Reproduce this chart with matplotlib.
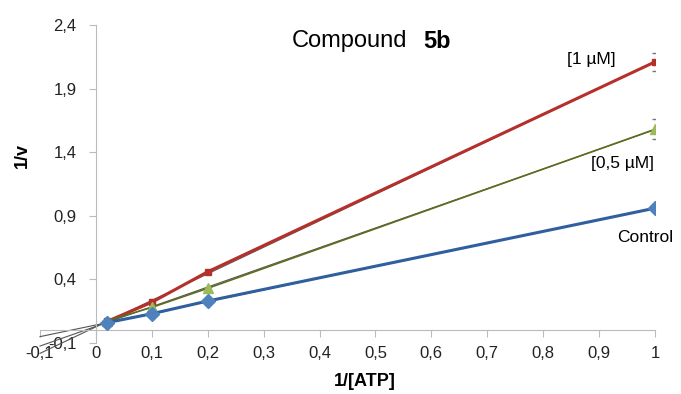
import numpy as np
import matplotlib
matplotlib.use("Agg")
import matplotlib.pyplot as plt

plt.rcParams['font.family'] = ['Liberation Sans', 'DejaVu Sans']

# data
atp_inv = [0.02, 0.1, 0.2, 1.0]
control = [0.06, 0.13, 0.23, 0.96]
half_um = [0.075, 0.18, 0.33, 1.58]
one_um = [0.07, 0.22, 0.46, 2.11]
err_half = [0, 0, 0, 0.08]
err_one = [0, 0, 0, 0.07]

x_ticks = [-0.1, 0, 0.1, 0.2, 0.3, 0.4, 0.5, 0.6, 0.7, 0.8, 0.9, 1]
y_ticks = [-0.1, 0.4, 0.9, 1.4, 1.9, 2.4]

def fmt(v):
    if abs(v - round(v)) < 1e-9:
        return str(int(round(v)))
    return ('%.1f' % v).replace('.', ',')

fig = plt.figure(figsize=(6.81, 3.94), dpi=100)
ax = fig.add_axes([40/681, 1-343/394, 615/681, 318/394])

# extrapolated trendlines
xs = np.array([-0.1, 1.0])
for ys in (control, half_um, one_um):
    k, b = np.polyfit(atp_inv, ys, 1)
    ax.plot(xs, k*xs + b, color='#555555', lw=0.8, zorder=2, clip_on=False)

ax.errorbar(atp_inv, one_um, yerr=err_one, color='#b5302b', lw=2.2,
            marker='s', ms=5, ecolor='#777777', elinewidth=0.8, capsize=2.5,
            zorder=4)
ax.errorbar(atp_inv, half_um, yerr=err_half, color='#5a6e1e', lw=1.2,
            marker='^', ms=7, mfc='#9bbb59', mec='#9bbb59',
            ecolor='#777777', elinewidth=0.8, capsize=2.5, zorder=5)
ax.plot(atp_inv, control, color='#2f5f9e', lw=2.2, marker='D', ms=7,
        mfc='#4f81bd', mec='#4f81bd', zorder=6)

ax.set_xlim(-0.1, 1.0)
ax.set_ylim(-0.1, 2.4)
ax.set_xticks(x_ticks)
ax.set_xticklabels([fmt(v) for v in x_ticks])
ax.set_yticks(y_ticks)
ax.set_yticklabels([fmt(v) for v in y_ticks])

for s in ('top', 'right'):
    ax.spines[s].set_visible(False)
ax.spines['left'].set_position(('data', 0))
ax.spines['bottom'].set_position(('data', 0))
for s in ('left', 'bottom'):
    ax.spines[s].set_color('#bbbbbb')
ax.tick_params(axis='both', colors='#bbbbbb', labelcolor='#222222',
               labelsize=12, length=5, direction='out')
ax.tick_params(axis='x', pad=6)
ax.tick_params(axis='y', pad=9)

ax.text(0.557, 2.36, 'Compound', fontsize=17, ha='right', va='top')
ax.text(0.585, 2.36, '5b', fontsize=17, fontweight='bold', ha='left', va='top')
ax.text(0.886, 2.125, '[1 µM]', fontsize=12.5, ha='center', va='center')
ax.text(0.941, 1.315, '[0,5 µM]', fontsize=12.5, ha='center', va='center')
ax.text(0.982, 0.733, 'Control', fontsize=12.5, ha='center', va='center')

fig.text(22/681, 1-155/394, '1/v', fontsize=13, fontweight='bold',
         rotation=90, ha='center', va='center')
fig.text(365/681, 1-381/394, '1/[ATP]', fontsize=13, fontweight='bold',
         ha='center', va='center')

fig.savefig('out.png', dpi=100)
